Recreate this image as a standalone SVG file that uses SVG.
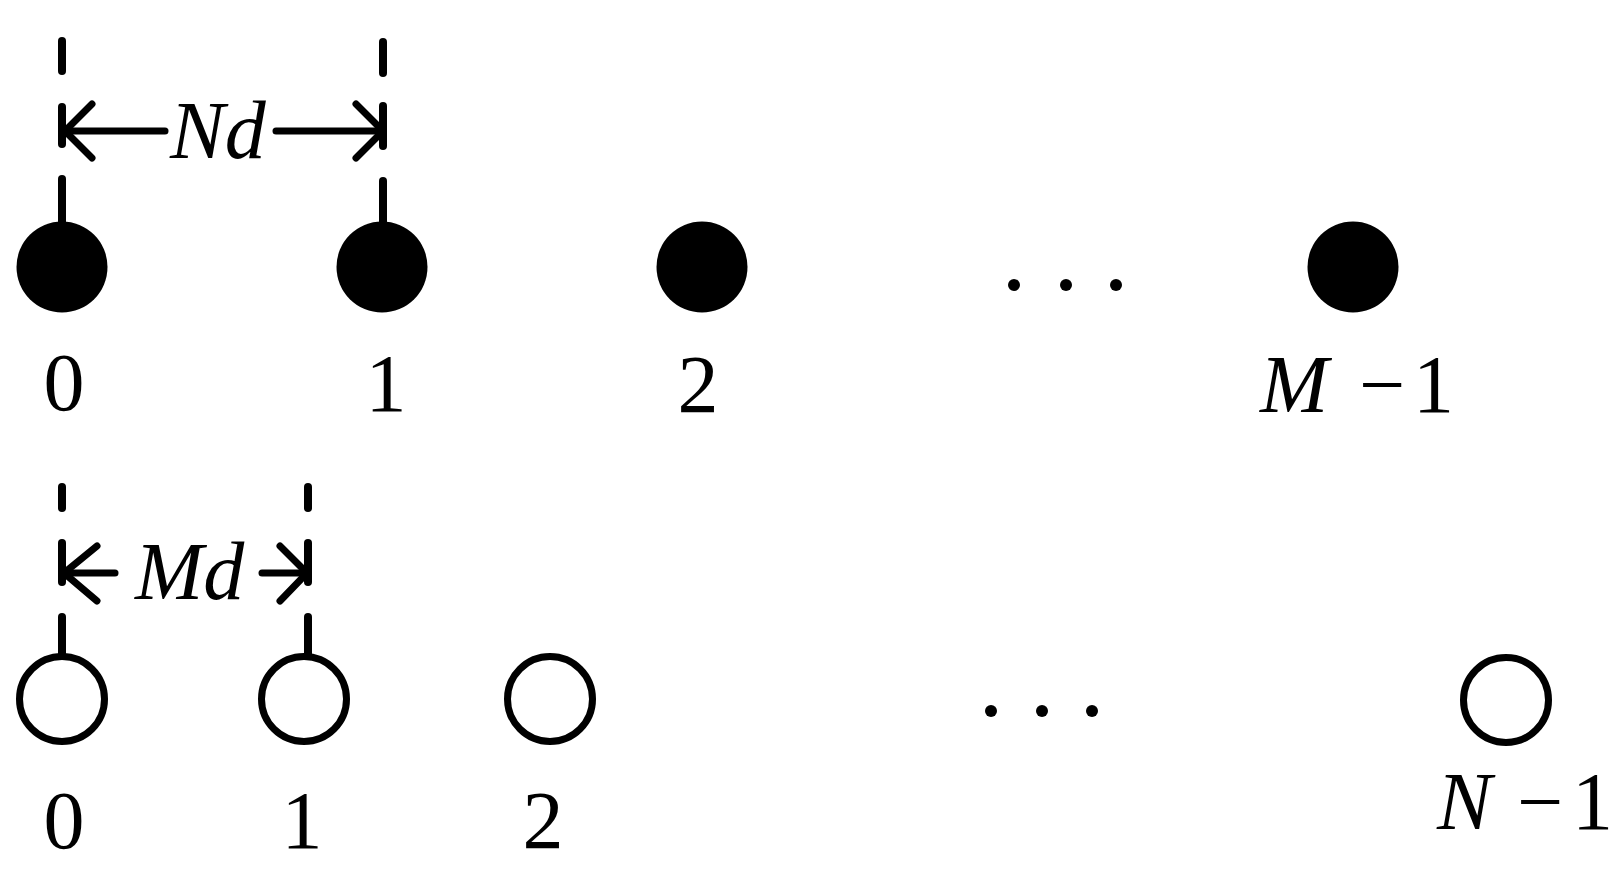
<svg xmlns="http://www.w3.org/2000/svg" width="1622" height="881" viewBox="0 0 1622 881">
<style>
text{font-family:"Liberation Serif",Tinos,"Times New Roman",Times,serif;font-size:82px;fill:#000}
.i{font-style:italic}
.ln{stroke:#000;stroke-width:8;stroke-linecap:round;fill:none}
.ar{stroke:#000;stroke-width:7;stroke-linecap:round;stroke-linejoin:round;fill:none}
.full{fill:#000}
.open{fill:#fff;stroke:#000;stroke-width:7}
.dot{fill:#000}
</style>
<rect width="1622" height="881" fill="#fff"/>
<g id="connectors">
  <line class="ln" x1="62" y1="41" x2="62" y2="71"/>
  <line class="ln" x1="62" y1="107" x2="62" y2="144"/>
  <line class="ln" x1="62" y1="179" x2="62" y2="222"/>
  <line class="ln" x1="383" y1="42" x2="383" y2="73"/>
  <line class="ln" x1="383" y1="106" x2="383" y2="146"/>
  <line class="ln" x1="383" y1="181" x2="383" y2="222"/>
  <line class="ar" x1="65" y1="131" x2="165" y2="131"/>
  <line class="ar" x1="276" y1="131" x2="380" y2="131"/>
  <polyline class="ar" points="92,104 65,131 92,158"/>
  <polyline class="ar" points="356,104 383,131 356,158"/>
  <line class="ln" x1="62" y1="487" x2="62" y2="508"/>
  <line class="ln" x1="62" y1="543" x2="62" y2="582"/>
  <line class="ln" x1="62" y1="617" x2="62" y2="654"/>
  <line class="ln" x1="308" y1="487" x2="308" y2="508"/>
  <line class="ln" x1="308" y1="543" x2="308" y2="582"/>
  <line class="ln" x1="308" y1="617" x2="308" y2="654"/>
  <line class="ar" x1="64" y1="573" x2="115" y2="573"/>
  <line class="ar" x1="262" y1="573" x2="306" y2="573"/>
  <polyline class="ar" points="97,546 64,573 97,601"/>
  <polyline class="ar" points="280,546 307,573 280,601"/>
</g>
<g id="label-Nd"><text class="i" x="170" y="158" font-family="Liberation Serif">Nd</text></g>
<g id="label-Md"><text class="i" x="135" y="599" font-family="Liberation Serif">Md</text></g>
<g id="top0"><circle class="full" cx="62" cy="267" r="45.5"/><text x="64" y="410" text-anchor="middle" font-family="Liberation Serif">0</text></g>
<g id="top1"><circle class="full" cx="382" cy="267" r="45.5"/><text x="386" y="411" text-anchor="middle" font-family="Liberation Serif">1</text></g>
<g id="top2"><circle class="full" cx="702" cy="267" r="45.5"/><text x="698" y="412" text-anchor="middle" font-family="Liberation Serif">2</text></g>
<g id="top-dots"><circle class="dot" cx="1014" cy="285" r="6"/><circle class="dot" cx="1066" cy="285" r="6"/><circle class="dot" cx="1116" cy="285" r="6"/></g>
<g id="topM1"><circle class="full" cx="1353" cy="267" r="45.5"/><text y="412" font-family="Liberation Serif"><tspan class="i" x="1260">M</tspan><tspan x="1359">−</tspan><tspan x="1413">1</tspan></text></g>
<g id="bot0"><circle class="open" cx="62" cy="699" r="42.5"/><text x="64" y="848" text-anchor="middle" font-family="Liberation Serif">0</text></g>
<g id="bot1"><circle class="open" cx="304" cy="699" r="42.5"/><text x="302" y="848" text-anchor="middle" font-family="Liberation Serif">1</text></g>
<g id="bot2"><circle class="open" cx="550" cy="699" r="42.5"/><text x="543" y="848" text-anchor="middle" font-family="Liberation Serif">2</text></g>
<g id="bot-dots"><circle class="dot" cx="991" cy="711" r="6"/><circle class="dot" cx="1042" cy="711" r="6"/><circle class="dot" cx="1092" cy="711" r="6"/></g>
<g id="botN1"><circle class="open" cx="1506" cy="700" r="42.5"/><text y="829" font-family="Liberation Serif"><tspan class="i" x="1437">N</tspan><tspan x="1517">−</tspan><tspan x="1572">1</tspan></text></g>
</svg>
